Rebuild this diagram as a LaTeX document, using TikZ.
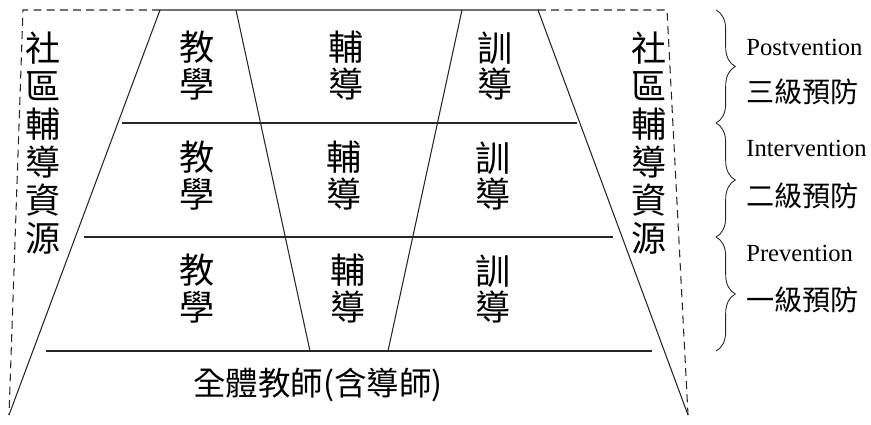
\documentclass[tikz,border=0pt]{standalone}
\usepackage{fontspec}
\setmainfont{Liberation Serif}
\newfontfamily\cjk{Noto Sans CJK TC}
\usetikzlibrary{decorations.pathreplacing}
\tikzstyle{Linea}=[draw=black!85, line width=0.6pt]
\tikzstyle{Punteada}=[draw=black!85, line width=0.6pt, dash pattern=on 4.5pt off 3pt]
\tikzstyle{Celda}=[inner sep=0pt, align=center, font=\cjk\fontsize{20}{21}\selectfont]
\tikzstyle{Recurso}=[inner sep=0pt, align=center, font=\cjk\fontsize{20}{21.6}\selectfont]
\tikzstyle{Base}=[inner sep=0pt, font=\cjk\fontsize{18.5}{22}\selectfont]
\tikzstyle{Llave}=[draw=black!85, line width=0.5pt, decorate, decoration={brace, amplitude=11pt}]
\tikzstyle{Nivel}=[anchor=west, inner sep=0pt, font=\fontsize{14}{16}\selectfont]
\tikzstyle{NivelZh}=[anchor=west, inner sep=0pt, font=\cjk\fontsize{16}{18}\selectfont]

\begin{document}
\begin{tikzpicture}[x=0.02cm, y=-0.02cm]
	\useasboundingbox (0,0) rectangle (871,425);

	%Puntos
	\coordinate (top_l)	at (160,10);
	\coordinate (top_r)	at (538,10);
	\coordinate (bot_l)	at (9,415);
	\coordinate (bot_r)	at (688,415);
	\coordinate (res_l)	at (23,10);
	\coordinate (res_r)	at (667,10);

	\coordinate (div1_t)	at (236,10);
	\coordinate (div1_b)	at (310,351);
	\coordinate (div2_t)	at (462,10);
	\coordinate (div2_b)	at (388,351);

	\coordinate (row1_l)	at (122,123);
	\coordinate (row1_r)	at (577,123);
	\coordinate (row2_l)	at (84,237);
	\coordinate (row2_r)	at (613,237);
	\coordinate (row3_l)	at (46,351);
	\coordinate (row3_r)	at (652,351);

	\coordinate (lv_0)	at (716,10);
	\coordinate (lv_1)	at (716,123);
	\coordinate (lv_2)	at (716,237);
	\coordinate (lv_3)	at (716,351);

	%Lineas
	\draw[Linea] (bot_l) -- (top_l) -- (top_r) -- (bot_r);
	\draw[Punteada] (top_l) -- (res_l) -- (bot_l);
	\draw[Punteada] (top_r) -- (res_r) -- (bot_r);
	\draw[Linea] (div1_t) -- (div1_b);
	\draw[Linea] (div2_t) -- (div2_b);
	\draw[Linea] (row1_l) -- (row1_r);
	\draw[Linea] (row2_l) -- (row2_r);
	\draw[Linea] (row3_l) -- (row3_r);

	%Nodos
	\node[Celda]	(teach_1)	at (197,66)	{教\\學};
	\node[Celda]	(guide_1)	at (346,66)	{輔\\導};
	\node[Celda]	(disc_1)	at (495,66)	{訓\\導};
	\node[Celda]	(teach_2)	at (197,176)	{教\\學};
	\node[Celda]	(guide_2)	at (344,176)	{輔\\導};
	\node[Celda]	(disc_2)	at (493,176)	{訓\\導};
	\node[Celda]	(teach_3)	at (197,289)	{教\\學};
	\node[Celda]	(guide_3)	at (348,289)	{輔\\導};
	\node[Celda]	(disc_3)	at (493,289)	{訓\\導};

	\node[Recurso]	(comm_l)	at (43,143)	{社\\區\\輔\\導\\資\\源};
	\node[Recurso]	(comm_r)	at (649,143)	{社\\區\\輔\\導\\資\\源};

	\node[Base]	(teachers)	at (318,385)	{全體教師(含導師)};

	%Llaves
	\draw[Llave] (lv_0) -- (lv_1);
	\draw[Llave] (lv_1) -- (lv_2);
	\draw[Llave] (lv_2) -- (lv_3);

	\node[Nivel]	(post)		at (746,47)	{Postvention};
	\node[NivelZh]	(post_zh)	at (746,92)	{三級預防};
	\node[Nivel]	(inter)		at (746,148)	{Intervention};
	\node[NivelZh]	(inter_zh)	at (746,196)	{二級預防};
	\node[Nivel]	(prev)		at (746,253)	{Prevention};
	\node[NivelZh]	(prev_zh)	at (746,300)	{一級預防};

\end{tikzpicture}
\end{document}
